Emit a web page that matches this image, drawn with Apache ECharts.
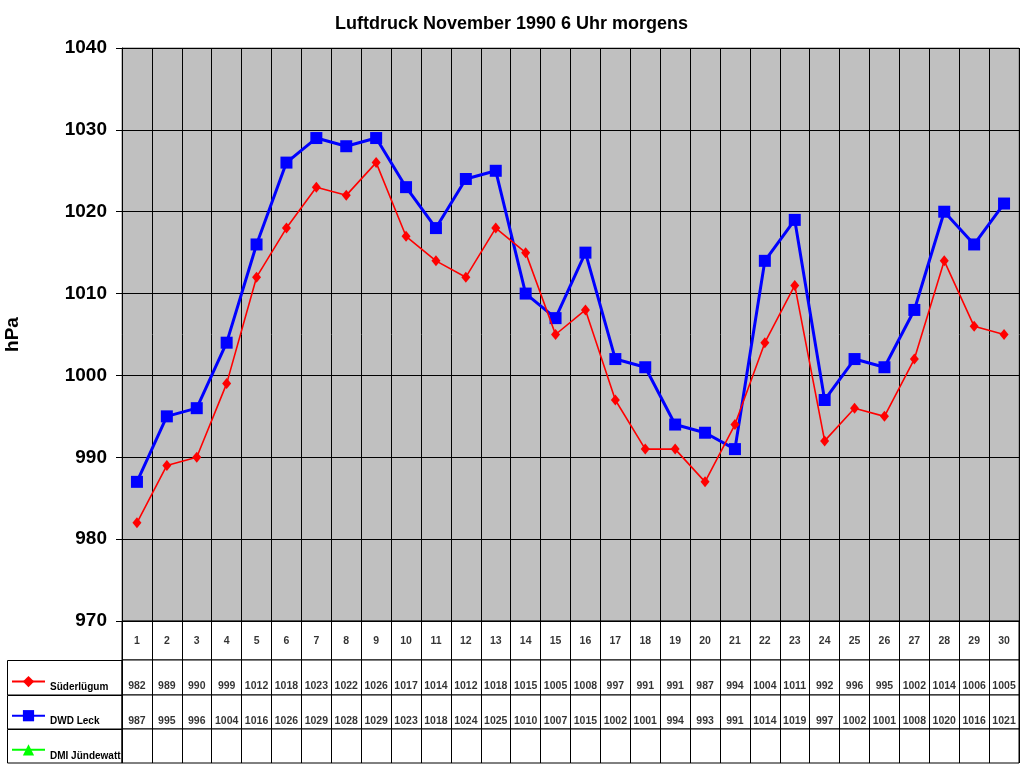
<!DOCTYPE html>
<html>
<head>
<meta charset="utf-8">
<title>Luftdruck November 1990</title>
<script src="https://cdn.jsdelivr.net/npm/echarts@6/dist/echarts.min.js"></script>
<style>
  html, body { margin: 0; padding: 0; background: #fff; }
  #chart { width: 1024px; height: 768px; }
</style>
</head>
<body>
<div id="chart"></div>
<script>
// Tage im November
var days = ['1','2','3','4','5','6','7','8','9','10','11','12','13','14','15',
            '16','17','18','19','20','21','22','23','24','25','26','27','28','29','30'];
// Luftdruck in hPa, 6 Uhr morgens
var suederluegum = [982,989,990,999,1012,1018,1023,1022,1026,1017,1014,1012,1018,1015,1005,
                    1008,997,991,991,987,994,1004,1011,992,996,995,1002,1014,1006,1005];
var dwdLeck = [987,995,996,1004,1016,1026,1029,1028,1029,1023,1018,1024,1025,1010,1007,
               1015,1002,1001,994,993,991,1014,1019,997,1002,1001,1008,1020,1016,1021];
var dmiJuendewatt = [];
var yTicks = { min: 970, max: 1040, step: 10 };

var chart = echarts.init(document.getElementById('chart'));

var FONT = "'Liberation Sans', Arial, sans-serif";

// Tabelle unter dem Diagramm: eine Zeile = ein grid
var rows = [
    { top: 621, height: 39, values: days, dy: 1 },
    { top: 660, height: 35, values: suederluegum, dy: 9 },
    { top: 695, height: 34, values: dwdLeck, dy: 9 },
    { top: 729, height: 34, values: dmiJuendewatt, dy: 9 }
];

var grids = [{
    left: 122, top: 48, width: 897, height: 573, outerBoundsMode: 'none',
    show: true, backgroundColor: '#C0C0C0', borderColor: '#808080', borderWidth: 1
}];
var xAxes = [{
    type: 'category', gridIndex: 0, data: days, boundaryGap: true,
    axisLabel: { show: false }, axisTick: { show: false },
    axisLine: { lineStyle: { color: '#000', width: 1 } },
    splitLine: { show: true, lineStyle: { color: '#000', width: 1 } }
}];
var yAxes = [{
    type: 'value', gridIndex: 0, min: yTicks.min, max: yTicks.max, interval: yTicks.step,
    name: 'hPa', nameLocation: 'middle', nameGap: 100, nameRotate: 90,
    nameTextStyle: { fontFamily: FONT, fontWeight: 'bold', fontSize: 19, color: '#000' },
    axisLine: { show: true, lineStyle: { color: '#000', width: 1 } },
    axisTick: { show: true, inside: false, length: 6, lineStyle: { color: '#000' } },
    axisLabel: { fontFamily: FONT, fontWeight: 'bold', fontSize: 19, color: '#000', margin: 15,
                 formatter: function (v) { return String(v); } },
    splitLine: { show: true, lineStyle: { color: '#000', width: 1 } }
}];

var series = [
    {
        name: 'Süderlügum', type: 'line', xAxisIndex: 0, yAxisIndex: 0,
        data: suederluegum, symbol: 'diamond', symbolSize: [9, 11],
        itemStyle: { color: '#FF0000' }, lineStyle: { color: '#FF0000', width: 1.6 },
        z: 3
    },
    {
        name: 'DWD Leck', type: 'line', xAxisIndex: 0, yAxisIndex: 0,
        data: dwdLeck, symbol: 'rect', symbolSize: 12,
        itemStyle: { color: '#0000FF' }, lineStyle: { color: '#0000FF', width: 3 },
        z: 2
    },
    {
        name: 'DMI Jündewatt', type: 'line', xAxisIndex: 0, yAxisIndex: 0,
        data: dmiJuendewatt, symbol: 'triangle', symbolSize: 12,
        itemStyle: { color: '#00FF00' }, lineStyle: { color: '#00FF00', width: 3 }
    }
];

rows.forEach(function (r, k) {
    var gi = k + 1;
    grids.push({
        left: 122, top: r.top, width: 897, height: r.height, outerBoundsMode: 'none',
        show: true, backgroundColor: '#fff', borderColor: '#000', borderWidth: 1
    });
    xAxes.push({
        type: 'category', gridIndex: gi, data: days, boundaryGap: true,
        axisLabel: { show: false }, axisTick: { show: false }, axisLine: { show: false },
        splitLine: { show: true, lineStyle: { color: '#000', width: 1 } }
    });
    yAxes.push({
        type: 'category', gridIndex: gi, data: [''],
        axisLabel: { show: false }, axisTick: { show: false }, axisLine: { show: false },
        splitLine: { show: false }
    });
    series.push({
        type: 'scatter', xAxisIndex: gi, yAxisIndex: gi, silent: true,
        symbolSize: 1, itemStyle: { color: 'rgba(0,0,0,0)' },
        data: r.values.map(function (v, i) { return [i, 0, v]; }),
        label: {
            show: true, position: 'inside', offset: [0, r.dy],
            fontFamily: FONT, fontWeight: 'bold', fontSize: 10.5, color: '#000',
            formatter: function (p) { return p.value[2]; }
        }
    });
});

var option = {
    animation: false,
    backgroundColor: '#fff',
    title: {
        text: 'Luftdruck November 1990 6 Uhr morgens',
        left: 330, top: 10,
        textStyle: { fontFamily: FONT, fontWeight: 'bold', fontSize: 18, color: '#000' }
    },
    legend: {
        data: ['Süderlügum', 'DWD Leck', 'DMI Jündewatt'],
        orient: 'vertical', left: 11, top: 676,
        itemWidth: 33, itemHeight: 14, itemGap: 17.5, padding: 0,
        formatter: '{n|{name}}',
        textStyle: {
            fontFamily: FONT, fontWeight: 'bold', fontSize: 10, color: '#000',
            rich: { n: { fontFamily: FONT, fontWeight: 'bold', fontSize: 10, color: '#000',
                         padding: [12, 0, 0, 0] } }
        },
        selectedMode: false
    },
    grid: grids,
    xAxis: xAxes,
    yAxis: yAxes,
    series: series,
    // Rahmen der Beschriftungsspalte links neben der Tabelle
    graphic: [
        { type: 'rect', shape: { x: 7.5, y: 660.5, width: 114.5, height: 34.5 }, style: { fill: 'none', stroke: '#000', lineWidth: 1 } },
        { type: 'rect', shape: { x: 7.5, y: 695.5, width: 114.5, height: 33.5 }, style: { fill: 'none', stroke: '#000', lineWidth: 1 } },
        { type: 'rect', shape: { x: 7.5, y: 729.5, width: 114.5, height: 33.5 }, style: { fill: 'none', stroke: '#000', lineWidth: 1 } }
    ]
};

chart.setOption(option);
</script>
</body>
</html>
